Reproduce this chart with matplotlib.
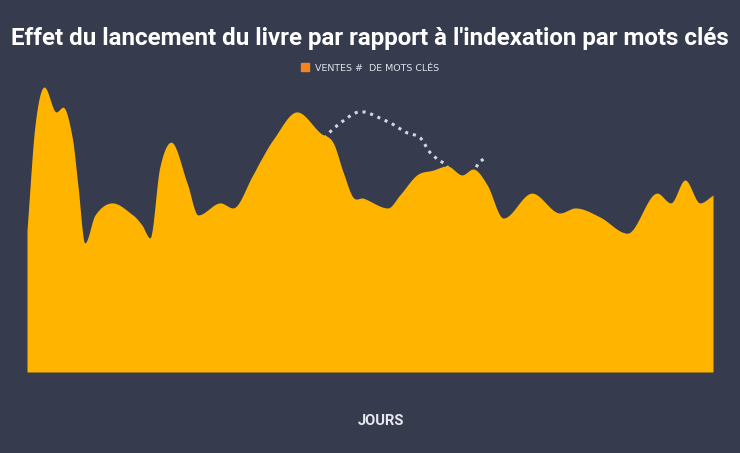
import numpy as np
import matplotlib.pyplot as plt
from matplotlib.patches import Patch

# ventes (aire jaune)
jours = [0, 1.4, 3.0, 5.1, 6.3, 7.9, 8.9, 10.1, 11.9, 14.9, 18.5, 20.1, 21.5, 23.2,
         25.2, 28.0, 29.9, 33.8, 36.0, 39.5, 40.7, 43.0, 47.2, 51.3, 53.5, 55.3,
         57.0, 58.8, 63.1, 65.2, 68.2, 71.0, 73.5, 76.1, 78.0, 80.5, 83.3, 88.3,
         93.2, 95.9, 100.2, 105.0, 110.2, 112.6, 115.1, 117.7, 120]
ventes = [50.7, 88.2, 101.8, 92.9, 94.6, 83.9, 66.8, 46.1, 56.1, 60.4, 56.1, 52.5,
          47.9, 72.9, 82.1, 67.5, 56.1, 60.4, 58.6, 70.4, 75.0, 82.9, 92.9, 85.4,
          82.1, 71.4, 62.5, 62.1, 58.6, 63.2, 70.4, 72.1, 73.6, 70.4, 72.5, 66.8,
          55.0, 63.9, 56.8, 58.6, 55.4, 49.6, 63.9, 60.4, 68.6, 60.4, 63.2]

# mots clés (ligne pointillée)
jours_mc = [47.9, 52.5, 54.8, 57.4, 58.8, 61.3, 63.9, 66.2,
            68.8, 70.3, 71.8, 73.4, 76.8, 78.7, 80.1]
mots_cles = [72, 84.6, 88.9, 92.5, 92.9, 91.1, 88.6, 85.7,
             83.6, 78.9, 76.0, 73.6, 62, 73.6, 76.4]


def lisser(x, y, n=1500):
    x = np.asarray(x, float)
    y = np.asarray(y, float)
    m = np.empty_like(y)
    m[1:-1] = (y[2:] - y[:-2]) / (x[2:] - x[:-2])
    m[0] = (y[1] - y[0]) / (x[1] - x[0])
    m[-1] = (y[-1] - y[-2]) / (x[-1] - x[-2])
    # pas de dépassement aux extrema
    ext = (y[1:-1] - y[:-2]) * (y[2:] - y[1:-1]) <= 0
    m[1:-1][ext] = 0
    xs = np.linspace(x[0], x[-1], n)
    i = np.clip(np.searchsorted(x, xs) - 1, 0, len(x) - 2)
    h = x[i + 1] - x[i]
    t = (xs - x[i]) / h
    h00 = 2 * t**3 - 3 * t**2 + 1
    h10 = t**3 - 2 * t**2 + t
    h01 = -2 * t**3 + 3 * t**2
    h11 = t**3 - t**2
    ys = h00 * y[i] + h10 * h * m[i] + h01 * y[i + 1] + h11 * h * m[i + 1]
    return xs, ys


bg = '#363b4e'
fig = plt.figure(figsize=(7.4, 4.53), dpi=100, facecolor=bg)
ax = fig.add_axes([27 / 740, 81 / 453, 686 / 740, 292 / 453])
ax.set_facecolor(bg)

xs, ys = lisser(jours, ventes)
ax.fill_between(xs, 0, ys, color='#ffb400', lw=0, zorder=2)

xm, ym = lisser(jours_mc, mots_cles)
ax.plot(xm, ym, color='#d4d8e4', lw=2.2, linestyle=(0, (1, 1.6)),
        dash_capstyle='butt', zorder=1)

ax.set_xlim(0, 120)
ax.set_ylim(0, 104.3)
ax.set_xticks([])
ax.set_yticks([])
for s in ax.spines.values():
    s.set_visible(False)

fig.text(0.5, 1 - 39 / 453, "Effet du lancement du livre par rapport à l'indexation par mots clés",
         ha='center', va='center', color='white', fontsize=17.4,
         fontweight='bold', family='Roboto')

leg = fig.legend(handles=[Patch(color='#f5841f', label='VENTES #  DE MOTS CLÉS')],
                 loc='center', bbox_to_anchor=(370 / 740, 1 - 68 / 453),
                 frameon=False, fontsize=6.8, handlelength=0.9, handleheight=0.9,
                 handletextpad=0.6, labelcolor='#dfe2ea')

fig.text(381 / 740, 1 - 421 / 453, 'JOURS', ha='center', va='center',
         color='#e8e9ee', fontsize=10.5, fontweight='bold', family='Roboto')

fig.savefig('out.png', dpi=100, facecolor=bg)
